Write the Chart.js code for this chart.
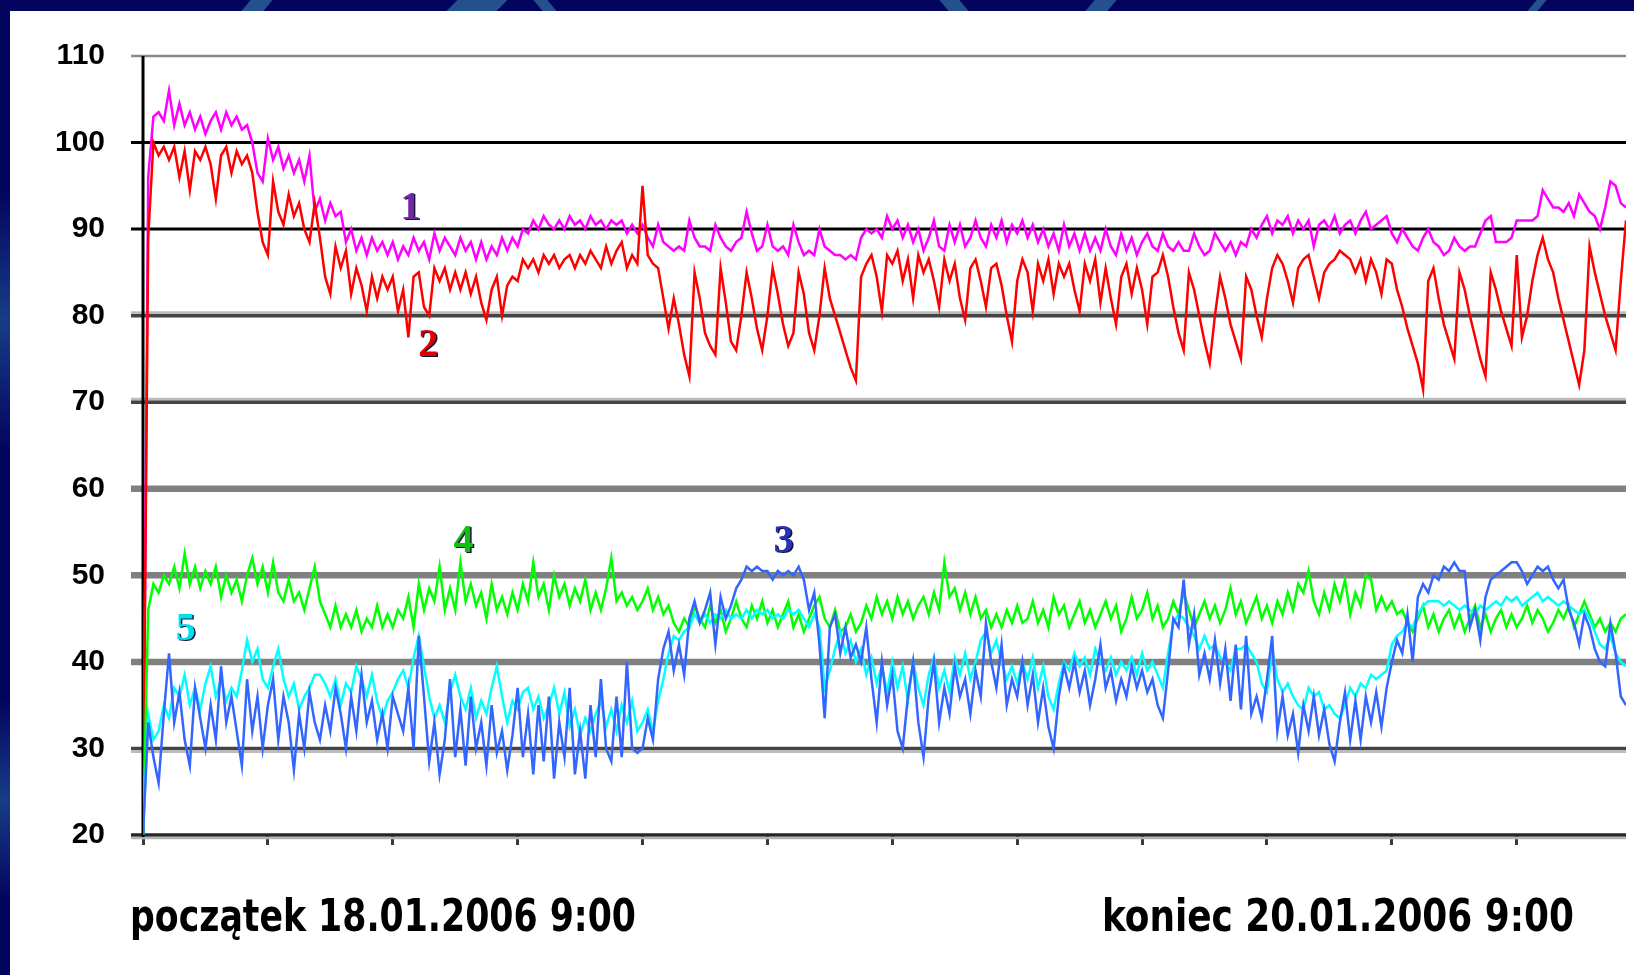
<!DOCTYPE html>
<html lang="pl">
<head>
<meta charset="UTF-8">
<title>Pomiar 18.01.2006 - 20.01.2006</title>
<script src="https://cdn.jsdelivr.net/npm/chart.js@4"></script>
<style>
    html, body { margin: 0; padding: 0; }
    body {
        width: 1634px; height: 975px; position: relative; overflow: hidden;
        background: #03045e;
    }
    /* light streaks in the dark frame */
    .streak { position: absolute; top: 0; height: 11px; background: #24508e; }
    .lstreak { position: absolute; left: 0; width: 10px; background: linear-gradient(#03045e, #173d86, #03045e); }
    #sheet { position: absolute; left: 10px; top: 11px; right: 0; bottom: 0; background: #fff; }
    #chart { position: absolute; left: 0; top: 0; }
    .stamp {
        position: absolute; top: 894px; white-space: nowrap;
        font: bold 44px "Liberation Sans Narrow", "DejaVu Sans Condensed", sans-serif;
        line-height: 44px; color: #000; transform-origin: left top;
    }
</style>
</head>
<body>

<div class="streak" style="left:246px;width:22px;transform:skewX(-40deg)"></div>
<div class="streak" style="left:452px;width:50px;transform:skewX(-45deg)"></div>
<div class="streak" style="left:538px;width:14px;transform:skewX(40deg)"></div>
<div class="streak" style="left:944px;width:20px;transform:skewX(40deg)"></div>
<div class="streak" style="left:1090px;width:22px;transform:skewX(-40deg)"></div>
<div class="streak" style="left:1532px;width:10px;transform:skewX(-40deg)"></div>
<div class="lstreak" style="top:190px;height:260px"></div>
<div class="lstreak" style="top:700px;height:200px"></div>

<div id="sheet"></div>
<canvas id="chart" width="1634" height="975"></canvas>

<div class="stamp" id="stampStart">początek 18.01.2006 9:00</div>
<div class="stamp" id="stampEnd">koniec 20.01.2006 9:00</div>

<script>
    // readings every 10 minutes, 18.01.2006 9:00 onwards
    const line1 = [ // magenta
        20, 96, 103, 103.5, 102.5, 106, 102, 104.5, 102, 103.5, 101.5, 103, 101, 102.5, 103.5, 101.5, 103.5, 102, 103, 101.5, 102, 100, 96.5, 95.5,
        100.5, 98, 99.5, 97, 98.5, 96.5, 98, 95.5, 98.5, 92, 93.5, 91, 93, 91.5, 92, 88.5, 90, 87.5, 89, 87, 89, 87.5, 88.5, 87,
        88.5, 86.5, 88, 87, 89, 87.5, 88.5, 86.5, 89.5, 87.5, 89, 88, 87, 89, 87.5, 88.5, 86.5, 88.5, 86.5, 88, 87, 89, 87.5, 89,
        88, 90, 89.5, 91, 90, 91.5, 90.5, 90, 91, 90, 91.5, 90.5, 91, 90, 91.5, 90.5, 91, 90, 91, 90.5, 91, 89.5, 90.5, 89.5,
        90.5, 89, 88, 90.5, 88.5, 88, 87.5, 88, 87.5, 91, 89, 88, 88, 87.5, 90.5, 89, 88, 87.5, 88.5, 89, 92, 89.5, 87.5, 88,
        90.5, 88, 87.5, 88, 87, 90.5, 88.5, 87, 87.5, 87, 90, 88, 87.5, 87, 87, 86.5, 87, 86.5, 89, 90, 89.5, 90, 89, 91.5,
        90, 91, 89, 90.5, 88.5, 90, 87.5, 89, 91, 88, 87.5, 90.5, 88.5, 90.5, 88, 89, 91, 89, 88, 90.5, 89, 91, 88.5, 90.5,
        89.5, 91, 89, 90.5, 88.5, 90, 88, 89.5, 87.5, 90.5, 88, 89.5, 87.5, 89.5, 87.5, 89, 87.5, 90, 88, 87, 89.5, 87.5, 89, 87,
        88.5, 89.5, 88, 87.5, 89.5, 88, 87.5, 88.5, 87.5, 87.5, 89.5, 88, 87, 87.5, 89.5, 88.5, 87.5, 88.5, 87, 88.5, 88, 90, 89, 90.5,
        91.5, 89.5, 91, 90.5, 91.5, 89.5, 91, 90, 91, 88, 90.5, 91, 90, 91.5, 89.5, 90.5, 91, 89.5, 91, 92, 90, 90.5, 91, 91.5,
        89.5, 88.5, 90, 89, 88, 87.5, 89, 90, 88.5, 88, 87, 87.5, 89, 88, 87.5, 88, 88, 89.5, 91, 91.5, 88.5, 88.5, 88.5, 89,
        91, 91, 91, 91, 91.5, 94.5, 93.5, 92.5, 92.5, 92, 93, 91.5, 94, 93, 92, 91.5, 90, 92.5, 95.5, 95, 93, 92.5
    ];
    const line2 = [ // red
        20, 89, 100, 98.5, 99.5, 98, 99.5, 96, 99, 94.5, 99, 98, 99.5, 97.5, 93.5, 98.5, 99.5, 96.5, 99, 97.5, 98.5, 96.5, 92, 88.5,
        87, 95.5, 92, 90.5, 94, 91.5, 93, 90, 88.5, 93, 89, 84.5, 82.5, 88, 85.5, 87.5, 82.5, 85.5, 83.5, 80.5, 84.5, 82, 84.5, 83,
        84.5, 80.5, 83, 77.5, 84.5, 85, 81, 80, 85.5, 84, 85.5, 83, 85, 83, 85, 82.5, 84.5, 81.5, 79.5, 83, 84.5, 80, 83.5, 84.5,
        84, 86.5, 85.5, 86.5, 85, 87, 86, 87, 85.5, 86.5, 87, 85.5, 87, 86, 87.5, 86.5, 85.5, 88, 86, 87.5, 88.5, 85.5, 87, 86,
        95, 87, 86, 85.5, 82, 78.5, 82, 79, 75.5, 73, 85, 82, 78, 76.5, 75.5, 85.5, 81.5, 77, 76, 80, 85, 82, 78.5, 76,
        80, 85.5, 82.5, 79, 76.5, 78, 85, 82.5, 78, 76, 80, 85.5, 82, 80, 78, 76, 74, 72.5, 84.5, 86, 87, 84.5, 80.5, 87,
        86, 87.5, 84, 86.5, 82, 87, 85, 86.5, 84, 81, 86.5, 84, 86, 82, 79.5, 85.5, 86.5, 84, 81, 85.5, 86, 83.5, 80, 77,
        84, 86.5, 85, 80.5, 86, 84, 86.5, 82.5, 86, 84.5, 86, 83, 80.5, 86, 84, 86.5, 81.5, 85.5, 82, 79, 84.5, 86, 82.5, 85.5,
        83, 79, 84.5, 85, 87, 84.5, 81, 78, 76, 85, 83, 80, 77, 74.5, 80, 84.5, 82, 79, 77, 75, 84.5, 83, 80, 77.5,
        82, 85.5, 87, 86, 84, 81.5, 85.5, 86.5, 87, 84.5, 82, 85, 86, 86.5, 87.5, 87, 86.5, 85, 86.5, 84, 86.5, 85, 82.5, 86.5,
        86, 83, 81, 78.5, 76.5, 74.5, 71.5, 84, 85.5, 82, 79, 77, 75, 85, 83, 80, 77.5, 75, 73, 85, 83, 80.5, 78.5, 76.5,
        87, 77.5, 80, 84, 87, 89, 86.5, 85, 82, 79.5, 77, 74.5, 72, 76, 88, 85, 82.5, 80, 78, 76, 84, 91
    ];
    const line3 = [ // blue
        20, 33, 29, 26, 34, 41, 33, 36.5, 31, 28, 37, 33.5, 30, 35, 31, 39.5, 33, 36, 32, 28, 38, 32, 36, 30,
        35, 38, 31, 36, 33, 27.5, 34, 30, 36.5, 33, 31, 35, 32, 37, 34, 30, 36, 32, 38.5, 33, 35.5, 31, 34, 30,
        36, 34, 32, 37, 30, 43, 36, 28.5, 33, 27, 31, 38, 29, 34.5, 28, 36, 30, 33, 28, 35, 29.5, 32, 27.5, 31.5,
        37, 29, 34, 27, 35, 28.5, 36, 26.5, 33, 29, 37, 27, 32, 26.5, 35, 29, 38, 30, 28.5, 36, 29, 40, 30, 29.5,
        30, 33.5, 31, 38, 41.5, 43.5, 39, 42, 38.5, 45, 47, 44.5, 46, 48, 42, 47.5, 45, 46.5, 48.5, 49.5, 51, 50.5, 51, 50.5,
        50.5, 49.5, 50.5, 50, 50.5, 50, 51, 49.5, 46, 48, 42, 33.5, 44, 45.5, 41, 44, 40.5, 42, 40, 44, 38, 33, 40, 35,
        38.5, 32, 30, 36, 40, 33, 29, 36, 40, 33, 37, 34, 39.5, 36, 38, 34, 39, 36, 44.5, 40, 37, 42, 35, 38,
        36, 40, 35, 38.5, 33, 37, 32.5, 30, 36, 39.5, 37, 40, 36.5, 39, 35, 38, 42, 37, 39, 35.5, 38, 36, 39.5, 37,
        39, 36.5, 38, 35, 33.5, 39, 45, 44, 49.5, 42, 45.5, 38.5, 41, 38, 42.5, 37.5, 41.5, 35.5, 42, 34.5, 43, 34, 36, 33.5,
        38, 43, 32, 36, 31.5, 34, 29.5, 35, 32, 36, 31.5, 34.5, 30.5, 28.5, 33, 36.5, 31, 35.5, 31, 36, 33, 36.5, 32.5, 37,
        40, 42.5, 41, 45.5, 40, 47.5, 49, 48, 50, 49.5, 51, 50.5, 51.5, 50.5, 50.5, 44, 46, 42.5, 47.5, 49.5, 50, 50.5, 51, 51.5,
        51.5, 50.5, 49, 50, 51, 50.5, 51, 49.5, 48.5, 49.5, 46, 44.5, 42, 45.5, 44, 41.5, 40, 39.5, 44.5, 41, 36, 35
    ];
    const line4 = [ // green
        20, 46, 49, 48, 50, 49, 51, 48.5, 52.5, 49, 51, 48.5, 50.5, 49, 51, 47.5, 50, 48, 49.5, 47, 50, 52, 49, 51,
        48, 51.5, 48, 47, 49.5, 47, 48, 46, 48.5, 51, 47, 45.5, 44, 46.5, 44, 45.5, 44, 46, 43.5, 45, 44, 46.5, 44, 45.5,
        44, 46, 45, 47.5, 44, 49, 46, 48.5, 47, 51, 46, 48.5, 46, 51.5, 47, 49, 46.5, 48, 45, 49, 46, 47.5, 45.5, 48,
        46, 49, 47, 51.5, 47.5, 49, 46, 50, 47.5, 49, 46.5, 48.5, 47, 49.5, 46, 48, 46, 48.5, 52, 47, 48, 46.5, 47.5, 46,
        47, 48.5, 46, 47.5, 45.5, 46.5, 44.5, 43.5, 45, 44, 46.5, 45, 44, 46.5, 44.5, 46, 43.5, 45, 47, 45, 44, 46.5, 45, 47,
        44.5, 46, 44, 45.5, 47, 44, 45.5, 43.5, 45, 46.5, 47.5, 45, 44, 46, 43.5, 44, 45.5, 43.5, 44.5, 46.5, 45, 47.5, 45.5, 47,
        45, 47.5, 45.5, 47, 45, 46.5, 47.5, 45.5, 48, 46, 51.5, 47.5, 48.5, 46, 48, 45.5, 47.5, 45, 46, 44, 45.5, 44, 46, 44.5,
        46.5, 44.5, 45, 47, 44.5, 46, 44, 47.5, 45.5, 46.5, 44, 45.5, 47, 44.5, 46, 44, 45.5, 47, 45, 46.5, 43.5, 45, 47.5, 45,
        46, 48, 45, 46.5, 44, 45, 47, 45.5, 48, 46, 44, 45.5, 47, 45, 46.5, 44.5, 46, 48.5, 45.5, 47, 44.5, 46, 47.5, 45,
        46.5, 44.5, 47, 45.5, 48, 46, 49, 48, 50.5, 47, 45.5, 48, 46, 49, 47, 49.5, 45.5, 48, 46.5, 50, 49.5, 46, 47.5, 46,
        47, 45.5, 46, 44.5, 43.5, 45, 46.5, 44, 45.5, 43.5, 45, 46, 44, 45.5, 43.5, 45, 46.5, 44, 45.5, 43.5, 45, 46, 44, 45.5,
        44, 45, 46.5, 44.5, 46, 45, 43.5, 44.5, 46, 45, 46.5, 44, 45.5, 47, 45.5, 44, 45, 43.5, 44.5, 43.5, 45, 45.5
    ];
    const line5 = [ // cyan
        20, 34, 31, 32, 35, 33.5, 37, 36, 38.5, 35, 37, 34.5, 37.5, 39.5, 36, 38, 35.5, 37, 36, 39, 42.5, 40, 41.5, 38,
        37, 39.5, 41.5, 38, 36, 37.5, 34.5, 36, 37, 38.5, 38.5, 37.5, 36, 38, 35, 37.5, 36.5, 39.5, 38, 36, 38.5, 35.5, 33.5, 35.5,
        36.5, 38, 39, 37, 40.5, 43, 39.5, 36, 33.5, 35, 33, 36.5, 38.5, 36, 34.5, 37, 33.5, 35.5, 34, 37, 39.5, 36, 33, 35.5,
        34.5, 36.5, 37, 34.5, 36, 33.5, 35, 37, 34, 36.5, 32.5, 34.5, 31.5, 33.5, 32, 34, 35.5, 32.5, 34.5, 32, 35, 33, 35.5, 32,
        33, 34.5, 32, 35.5, 38, 41, 43, 42.5, 43.5, 44, 45.5, 44.5, 45.5, 44.5, 45.5, 45, 46, 45, 45.5, 45, 46, 45, 46, 45.5,
        46, 45, 45.5, 45, 46, 45.5, 46, 45, 44, 45.5, 44, 37, 39, 41.5, 43.5, 41, 42.5, 40, 41.5, 38.5, 40.5, 37.5, 39.5, 36.5,
        40, 37, 39.5, 35.5, 40, 37, 35, 38.5, 40.5, 37, 39, 36.5, 40.5, 38.5, 41, 38, 40, 42.5, 43.5, 41, 42.5, 40, 38, 39.5,
        37.5, 40, 38, 40.5, 37, 39.5, 36, 34.5, 37.5, 40, 39, 41, 39.5, 40.5, 38.5, 41.5, 40, 39, 40.5, 38.5, 40, 39, 40.5, 38.5,
        41, 39, 40, 38.5, 37, 41, 44.5, 45.5, 45, 44, 43, 41.5, 43, 41.5, 42, 40.5, 40, 39, 41.5, 41.5, 42, 41, 40, 37.5,
        36.5, 41.5, 38, 36.5, 37.5, 36, 35, 34.5, 37, 36, 36.5, 34.5, 35, 34, 33.5, 35, 37, 36, 37.5, 37, 38.5, 38, 38.5, 39,
        42, 43, 43.5, 44.5, 44, 45.5, 46.5, 47, 47, 47, 46.5, 47, 46.5, 46, 46.5, 46, 45.5, 46.5, 46, 46.5, 47, 46.5, 47.5, 47,
        47.5, 46.5, 47, 47.5, 48, 47, 47.5, 47, 46.5, 47, 46.5, 46, 45.5, 46, 45, 43.5, 42, 41.5, 43, 41, 40, 39.5
    ];

    const minutes = line1.map((_, i) => i * 10);
    const xTicks = [0, 240, 480, 720, 960, 1200, 1440, 1680, 1920, 2160, 2400, 2640];
    const yTicks = [20, 30, 40, 50, 60, 70, 80, 90, 100, 110];

    // the curve numbers written next to the lines
    const markerText = ['1', '2', '3', '4', '5'];
    const markerTime = [514, 548, 1231, 616, 82];
    const markerValue = [92.4, 76.5, 53.9, 53.9, 43.7];

    // each horizontal rule: [colour, width, offset]
    const ruleStyle = {
        110: [['#8a8a8a', 2.5, 0]],
        100: [['#000000', 3, 0]],
        90:  [['#000000', 3, 0]],
        80:  [['#bcbcbc', 3, -3], ['#444444', 3.5, 0]],
        70:  [['#bcbcbc', 3, -3], ['#444444', 3.5, 0]],
        60:  [['#808080', 6.5, 0]],
        50:  [['#808080', 6.5, 0]],
        40:  [['#808080', 6.5, 0]],
        30:  [['#444444', 3.5, 0], ['#bcbcbc', 3, 3]],
        20:  [['#262626', 3.5, 0], ['#b4b4b4', 2.5, 3]]
    };

    const rules = {
        id: 'rules',
        beforeDatasetsDraw(chart) {
            const ctx = chart.ctx, y = chart.scales.y, a = chart.chartArea;
            ctx.save();
            yTicks.forEach(v => {
                (ruleStyle[v] || []).forEach(([color, w, off]) => {
                    const py = y.getPixelForValue(v) + off;
                    ctx.strokeStyle = color;
                    ctx.lineWidth = w;
                    ctx.beginPath();
                    ctx.moveTo(a.left - 12, py);
                    ctx.lineTo(a.right, py);
                    ctx.stroke();
                });
            });
            // vertical axis
            ctx.strokeStyle = '#000';
            ctx.lineWidth = 3;
            ctx.beginPath();
            ctx.moveTo(a.left, a.top);
            ctx.lineTo(a.left, a.bottom + 2);
            ctx.stroke();
            ctx.restore();
        }
    };

    const markerColors = ['#7326a8', '#e00000', '#2633b8', '#12c012', '#00e0ee'];
    const markers = {
        id: 'markers',
        afterDatasetsDraw(chart) {
            const ctx = chart.ctx, xs = chart.scales.x, ys = chart.scales.y;
            ctx.save();
            ctx.font = 'bold 40px "Liberation Serif", serif';
            ctx.textAlign = 'center';
            ctx.textBaseline = 'middle';
            markerText.forEach((t, k) => {
                const px = xs.getPixelForValue(markerTime[k]);
                const py = ys.getPixelForValue(markerValue[k]);
                ctx.fillStyle = '#14143a';
                ctx.fillText(t, px + 1.5, py + 1);
                ctx.fillStyle = markerColors[k];
                ctx.fillText(t, px, py);
            });
            ctx.restore();
        }
    };

    function series(values, color) {
        return {
            data: values,
            borderColor: color,
            borderWidth: 2.5,
            pointRadius: 0,
            tension: 0,
            fill: false
        };
    }

    const ctx = document.getElementById('chart').getContext('2d');
    new Chart(ctx, {
        type: 'line',
        data: {
            labels: minutes,
            datasets: [
                series(line3, '#3366ff'),
                series(line5, '#00ffff'),
                series(line4, '#00ff00'),
                series(line2, '#ff0000'),
                series(line1, '#ff00ff')
            ]
        },
        options: {
            responsive: false,
            animation: false,
            devicePixelRatio: 1,
            layout: { padding: { top: 52, right: 8, left: 0, bottom: 0 } },
            plugins: { legend: { display: false }, tooltip: { enabled: false } },
            scales: {
                x: {
                    type: 'linear',
                    min: 0,
                    max: 2850,
                    afterBuildTicks: s => { s.ticks = xTicks.map(v => ({ value: v })); },
                    afterFit: s => { s.height = 140; },
                    ticks: { display: false },
                    border: { display: false },
                    grid: {
                        drawOnChartArea: false,
                        drawTicks: true,
                        tickLength: 10,
                        tickWidth: 3,
                        tickColor: '#3a3a3a'
                    }
                },
                y: {
                    min: 20,
                    max: 110,
                    afterBuildTicks: s => { s.ticks = yTicks.map(v => ({ value: v })); },
                    afterFit: s => { s.width = 143; },
                    border: { display: false },
                    grid: { display: false, drawTicks: false },
                    ticks: {
                        color: '#000',
                        padding: 38,
                        font: { family: '"Liberation Sans", Arial, sans-serif', size: 30, weight: 'bold' }
                    }
                }
            }
        },
        plugins: [rules, markers]
    });

    // squeeze the two captions to the width they have on the slide
    function fitStamp(id, left, width) {
        const el = document.getElementById(id);
        el.style.left = left + 'px';
        const w = el.getBoundingClientRect().width;
        el.style.transform = 'scaleX(' + (width / w) + ')';
    }
    fitStamp('stampStart', 130, 506);
    fitStamp('stampEnd', 1102, 472);
</script>

</body>
</html>
